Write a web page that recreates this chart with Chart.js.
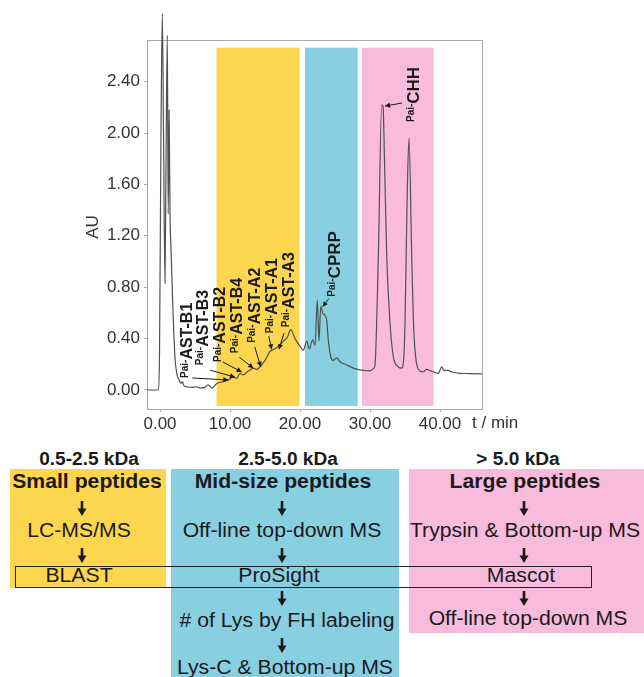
<!DOCTYPE html>
<html>
<head>
<meta charset="utf-8">
<script src="https://cdn.jsdelivr.net/npm/chart.js@4"></script>
<style>
  body { margin: 0; background: #fff; font-family: "Liberation Sans", Arial, sans-serif; }
  #wrap { position: relative; width: 644px; height: 677px; overflow: hidden; }
  #chromatogram { position: absolute; left: 0; top: 0; }
  .box { position: absolute; }
  .t { position: absolute; transform: translate(-50%, -50%) scaleX(1.06); white-space: nowrap;
       line-height: 1; font-size: 20px; color: #1a1a1a; }
  .b { font-weight: bold; }
  .h { font-size: 18px; font-weight: bold; }
  .ar { position: absolute; width: 10px; height: 15px; transform: translateX(-50%); }
  .frame { position: absolute; border: 1.3px solid #222; box-sizing: border-box; }
</style>
</head>
<body>
<div id="wrap">
  <canvas id="chromatogram" width="644" height="440"></canvas>

  <div class="box" style="left:10px;top:469px;width:156px;height:119px;background:#fdd650"></div>
  <div class="box" style="left:171px;top:469px;width:228px;height:208px;background:#89cfe2"></div>
  <div class="box" style="left:409px;top:469px;width:235px;height:164px;background:#f8bbdc"></div>
  <div class="frame" style="left:15px;top:566px;width:577px;height:22px"></div>

  <div class="t h" style="left:89px;top:459px">0.5-2.5 kDa</div>
  <div class="t h" style="left:288px;top:459px">2.5-5.0 kDa</div>
  <div class="t h" style="left:518px;top:459px">&gt; 5.0 kDa</div>

  <div class="t b" style="left:87px;top:481px">Small peptides</div>
  <div class="t b" style="left:283px;top:481px">Mid-size peptides</div>
  <div class="t b" style="left:525px;top:481px">Large peptides</div>

  <div class="t" style="left:79px;top:530px">LC-MS/MS</div>
  <div class="t" style="left:282px;top:530px">Off-line top-down MS</div>
  <div class="t" style="left:525px;top:530px">Trypsin &amp; Bottom-up MS</div>

  <div class="t" style="left:79px;top:575px">BLAST</div>
  <div class="t" style="left:279px;top:575px">ProSight</div>
  <div class="t" style="left:521px;top:575px">Mascot</div>

  <div class="t" style="left:287px;top:620px"># of Lys by FH labeling</div>
  <div class="t" style="left:528px;top:618px">Off-line top-down MS</div>
  <div class="t" style="left:285px;top:667px">Lys-C &amp; Bottom-up MS</div>

  <div id="arrows"></div>
</div>

<script>
// chromatogram trace (retention time in min, absorbance in AU)
const times = [-1.86, -0.2, -0.07, 0.14, 0.33, 0.5, 0.71, 0.86, 1.04, 1.17, 1.29, 1.43, 1.57, 1.86,
  2.14, 2.43, 2.71, 3.0, 3.2, 3.4, 3.8, 4.5, 5.2, 5.71, 6.4, 6.86, 7.43, 8.1, 9.04, 9.76, 10.47,
  10.96, 11.43, 11.9, 12.39, 12.86, 13.33, 13.81, 14.29, 15.0, 15.71, 16.43, 16.9, 17.61, 18.19,
  18.67, 19.29, 20.0, 20.47, 20.96, 21.33, 21.81, 22.14, 22.47, 22.71, 22.96, 23.24, 23.57, 23.81,
  24.04, 24.39, 24.76, 25.24, 25.71, 26.67, 27.61, 28.57, 29.5, 30.0, 30.43, 30.7, 31.19, 31.67,
  31.86, 32.07, 32.39, 32.86, 33.33, 34.04, 34.5, 34.8, 35.0, 35.33, 35.57, 35.96, 36.2, 36.43,
  36.9, 37.6, 38.1, 38.6, 39.1, 39.76, 40.24, 40.6, 41.0, 41.7, 42.9, 44.3, 46.0];
const au = [0, 0, 0.3, 2.0, 2.93, 2.0, 0.83, 1.8, 2.76, 1.37, 2.18, 1.37, 1.1, 0.6,
  0.25, 0.12, 0.08, 0.05, 0.065, 0.035, 0.025, 0.02, 0.025, 0.015, 0.02, 0.04, 0.015, 0.05, 0.065, 0.078, 0.10,
  0.09, 0.13, 0.117, 0.14, 0.156, 0.17, 0.16, 0.18, 0.23, 0.30, 0.32, 0.34, 0.38, 0.41,
  0.47, 0.40, 0.34, 0.31, 0.38, 0.32, 0.39, 0.35, 0.70, 0.38, 0.65, 0.60, 0.58, 0.545,
  0.39, 0.26, 0.23, 0.25, 0.22, 0.195, 0.17, 0.156, 0.15, 0.148, 0.165, 0.19, 1.04, 2.22,
  2.21, 1.79, 1.04, 0.52, 0.26, 0.18, 0.17, 0.23, 0.52, 1.56, 1.96, 1.04, 0.54, 0.31,
  0.16, 0.14, 0.16, 0.15, 0.14, 0.13, 0.18, 0.15, 0.155, 0.14, 0.13, 0.128, 0.125];

const xTicks = [0, 10, 20, 30, 40];
const yTicks = [0, 0.4, 0.8, 1.2, 1.6, 2.0, 2.4];

// fraction windows (min)
const bandStart = [8.07, 20.71, 28.86];
const bandEnd = [19.93, 28.24, 39.07];
const bandColors = ['#fdd650', '#89cfe2', '#f8bbdc'];

// labelled peaks: arrow tip on the trace
const peakNames = ['AST-B1', 'AST-B3', 'AST-B2', 'AST-B4', 'AST-A2', 'AST-A1', 'AST-A3', 'CPRP', 'CHH'];
const peakTimes = [9.76, 10.71, 11.67, 13.33, 14.39, 15.96, 17.0, 23.24, 32.14];
const peakAU = [0.078, 0.10, 0.14, 0.17, 0.18, 0.317, 0.317, 0.648, 2.21];

// label / arrow placement in px relative to the tip
const arrowTail = [[-36, -2], [-25, -7], [-19, -10], [-14, -11], [-6, -20], [-3, -13], [5, -16], [6, -8], [17, -3]];
const labelAt = [[-42, -2], [-33, -12], [-22, -10], [-17, -15], [-7, -24], [0, -16], [9, -22], [11, -10], [28, 16]];
const labelSize = [16, 16, 16, 16, 16, 16, 16, 17, 17];

const FONT = '"Liberation Sans", Arial, sans-serif';

const chromPlugin = {
  id: 'chrom',
  beforeDatasetsDraw(chart) {
    const { ctx, chartArea: a, scales: { x, y } } = chart;
    ctx.save();
    const yTop = y.getPixelForValue(2.664), yBot = y.getPixelForValue(-0.124);
    bandStart.forEach((s, i) => {
      const x0 = x.getPixelForValue(s), x1 = x.getPixelForValue(bandEnd[i]);
      ctx.fillStyle = bandColors[i];
      ctx.fillRect(x0, yTop, x1 - x0, yBot - yTop);
    });
    ctx.strokeStyle = '#a9a9a9';
    ctx.lineWidth = 1;
    ctx.strokeRect(Math.round(a.left) + 0.5, Math.round(a.top) + 0.5, a.width, a.height);
    ctx.restore();
  },
  afterDatasetsDraw(chart) {
    const { ctx, scales: { x, y } } = chart;
    ctx.save();
    ctx.fillStyle = '#1a1a1a';
    ctx.strokeStyle = '#1a1a1a';
    peakNames.forEach((name, i) => {
      const tx = x.getPixelForValue(peakTimes[i]), ty = y.getPixelForValue(peakAU[i]);
      const sx = tx + arrowTail[i][0], sy = ty + arrowTail[i][1];
      ctx.lineWidth = 1;
      ctx.beginPath();
      ctx.moveTo(sx, sy);
      ctx.lineTo(tx, ty);
      ctx.stroke();
      const ang = Math.atan2(ty - sy, tx - sx), c = Math.cos(ang), s = Math.sin(ang);
      const hl = 5, hw = 2.6;
      ctx.beginPath();
      ctx.moveTo(tx, ty);
      ctx.lineTo(tx - hl * c + hw * s, ty - hl * s - hw * c);
      ctx.lineTo(tx - hl * c - hw * s, ty - hl * s + hw * c);
      ctx.closePath();
      ctx.fill();

      const m = labelSize[i], p = 10;
      ctx.save();
      ctx.translate(tx + labelAt[i][0], ty + labelAt[i][1]);
      ctx.rotate(-Math.PI / 2);
      ctx.textAlign = 'left';
      ctx.textBaseline = 'alphabetic';
      ctx.font = `bold ${p}px ${FONT}`;
      ctx.fillText('Pai-', 0, -0.356 * m + 0.716 * p);
      const pw = ctx.measureText('Pai-').width;
      ctx.font = `bold ${m}px ${FONT}`;
      ctx.fillText(name, pw, 0.36 * m);
      ctx.restore();
    });

    ctx.fillStyle = '#333';
    ctx.font = `17px ${FONT}`;
    ctx.textBaseline = 'middle';
    ctx.textAlign = 'left';
    ctx.fillText('t / min', 472, 423);
    ctx.translate(93, 227);
    ctx.rotate(-Math.PI / 2);
    ctx.textAlign = 'center';
    ctx.fillText('AU', 0, 0);
    ctx.restore();
  }
};

new Chart(document.getElementById('chromatogram'), {
  type: 'line',
  data: {
    datasets: [{
      data: times.map((t, i) => ({ x: t, y: au[i] })),
      borderColor: '#505050',
      borderWidth: 1.2,
      pointRadius: 0,
      cubicInterpolationMode: 'monotone',
      clip: false
    }]
  },
  options: {
    responsive: false,
    animation: false,
    devicePixelRatio: 1,
    layout: { padding: { top: 40, right: 162, left: 0, bottom: 0 } },
    plugins: { legend: { display: false }, tooltip: { enabled: false } },
    scales: {
      x: {
        type: 'linear',
        min: -1.86,
        max: 46,
        afterFit: s => { s.height = 31; },
        afterBuildTicks: s => { s.ticks = xTicks.map(v => ({ value: v })); },
        border: { display: false },
        grid: { drawOnChartArea: false, drawTicks: true, tickLength: 3, color: '#aaa' },
        ticks: { padding: 2, maxRotation: 0, color: '#333', font: { size: 17, family: FONT },
                 callback: v => v.toFixed(2) }
      },
      y: {
        min: -0.148,
        max: 2.724,
        afterFit: s => { s.width = 147; },
        afterBuildTicks: s => { s.ticks = yTicks.map(v => ({ value: v })); },
        border: { display: false },
        grid: { drawOnChartArea: false, drawTicks: true, tickLength: 3, color: '#aaa' },
        ticks: { padding: 4, color: '#333', font: { size: 17, family: FONT },
                 callback: v => v.toFixed(2) }
      }
    }
  },
  plugins: [chromPlugin]
});

// flow arrows under the chart
const arrowX = [82, 282, 524, 82, 282, 524, 282, 524, 282];
const arrowY = [501, 501, 501, 548, 548, 548, 591, 591, 638];
const holder = document.getElementById('arrows');
arrowX.forEach((ax, i) => {
  const svg = document.createElementNS('http://www.w3.org/2000/svg', 'svg');
  svg.setAttribute('class', 'ar');
  svg.setAttribute('viewBox', '0 0 10 15');
  svg.style.left = ax + 'px';
  svg.style.top = arrowY[i] + 'px';
  svg.innerHTML = '<rect x="3.7" y="0" width="2.6" height="9" fill="#1a1a1a"/>' +
                  '<polygon points="0.5,7.5 9.5,7.5 5,15" fill="#1a1a1a"/>';
  holder.appendChild(svg);
});
</script>
</body>
</html>
